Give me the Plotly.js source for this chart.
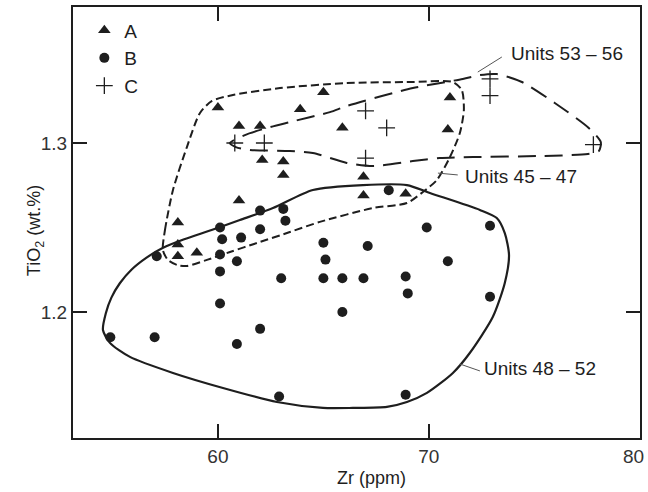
<!DOCTYPE html>
<html>
<head>
<meta charset="utf-8">
<script src="https://cdn.plot.ly/plotly-3.0.1.min.js"></script>
<style>html,body{margin:0;padding:0;background:#fff}#chart{width:648px;height:492px}</style>
</head>
<body>
<div id="chart"></div>
<script>
// ---- Data ----
const seriesNames = ["A", "B", "C"];

const aZr = [60.0, 61.0, 62.0, 62.1, 63.1, 63.1, 63.9, 65.0, 65.9, 71.0, 70.9, 66.9, 66.9, 68.9, 61.0, 58.1, 58.1, 58.1, 59.0];
const aTi = [1.321, 1.310, 1.310, 1.290, 1.289, 1.281, 1.320, 1.330, 1.309, 1.327, 1.308, 1.280, 1.269, 1.270, 1.266, 1.253, 1.240, 1.233, 1.235];

const bZr = [62.0, 63.1, 63.2, 60.1, 60.2, 61.1, 62.0, 57.1, 60.1, 60.9, 60.1, 63.0, 60.1, 54.9, 57.0, 62.0, 60.9,
             69.9, 72.9, 65.0, 67.1, 65.1, 70.9, 65.0, 65.9, 66.9, 68.9, 69.0, 72.9, 65.9, 62.9, 68.9, 68.1];
const bTi = [1.260, 1.261, 1.254, 1.250, 1.243, 1.244, 1.249, 1.233, 1.234, 1.230, 1.224, 1.220, 1.205, 1.185, 1.185, 1.190, 1.181,
             1.250, 1.251, 1.241, 1.239, 1.231, 1.230, 1.220, 1.220, 1.220, 1.221, 1.211, 1.209, 1.200, 1.150, 1.151, 1.272];

const cZr = [60.8, 62.2, 67.0, 68.0, 67.0, 72.9, 72.9, 77.8];
const cTi = [1.300, 1.300, 1.319, 1.309, 1.291, 1.338, 1.328, 1.299];

// Field outlines
const u4852Zr = [54.55, 54.69, 54.95, 55.35, 55.90, 56.60, 57.40, 58.40, 59.70, 61.04, 62.61, 64.50, 66.87, 68.96, 70.05, 72.42, 73.22, 73.60, 73.80, 73.60, 73.03, 71.94, 71.14, 69.91, 68.96, 68.01, 66.40, 64.98, 62.80, 60.24, 57.87, 55.83, 54.88, 54.55];
const u4852Ti = [1.1893, 1.1994, 1.2085, 1.2170, 1.2250, 1.2320, 1.2380, 1.2430, 1.2485, 1.2544, 1.2615, 1.2722, 1.2751, 1.2751, 1.2704, 1.2604, 1.2556, 1.2467, 1.2337, 1.2172, 1.1970, 1.1757, 1.1639, 1.1521, 1.1467, 1.1438, 1.1432, 1.1432, 1.1467, 1.1550, 1.1639, 1.1734, 1.1817, 1.1893];

const u4547Zr = [57.39, 57.49, 57.87, 58.53, 59.15, 59.72, 60.71, 62.94, 66.11, 69.24, 71.14, 71.56, 71.66, 71.47, 71.00, 70.38, 69.72, 68.96, 67.35, 64.83, 63.41, 61.85, 60.57, 59.48, 58.53, 58.06, 57.63, 57.39];
const u4547Ti = [1.2367, 1.2485, 1.2722, 1.2976, 1.3178, 1.3249, 1.3284, 1.3325, 1.3355, 1.3361, 1.3361, 1.3314, 1.3195, 1.3059, 1.2917, 1.2781, 1.2710, 1.2645, 1.2615, 1.2533, 1.2473, 1.2408, 1.2355, 1.2308, 1.2272, 1.2278, 1.2308, 1.2367];

const u5356Zr = [60.57, 61.28, 62.32, 63.41, 65.31, 66.11, 69.24, 71.61, 72.42, 73.22, 74.41, 75.97, 77.58, 78.15, 78.06, 77.54, 75.26, 72.09, 70.52, 69.24, 67.35, 66.11, 64.50, 63.41, 61.52, 60.85, 60.57];
const u5356Ti = [1.3000, 1.3047, 1.3089, 1.3124, 1.3183, 1.3219, 1.3325, 1.3379, 1.3402, 1.3408, 1.3361, 1.3237, 1.3089, 1.3006, 1.2953, 1.2935, 1.2923, 1.2917, 1.2911, 1.2893, 1.2864, 1.2882, 1.2941, 1.2953, 1.2959, 1.2976, 1.3000];

const fieldLabels = ["Units 53 – 56", "Units 45 – 47", "Units 48 – 52"];
const xTicks = [60, 70, 80];
const xTickText = ["60", "70", ""];   // the "80" at the frame edge is placed as an edge label below
const xEdgeLabel = "80";
const yTicks = [1.2, 1.3];

// ---- Styling ----
const ink = "#1e1e1e";
const FONT = "Liberation Sans, Arial, Helvetica, sans-serif";

const traces = [
  {x: u4852Zr, y: u4852Ti, mode: "lines", line: {color: ink, width: 2.2, shape: "spline", smoothing: 0.7}, showlegend: false, hoverinfo: "skip"},
  {x: u4547Zr, y: u4547Ti, mode: "lines", line: {color: ink, width: 2, shape: "spline", smoothing: 0.7, dash: "8px,4px"}, showlegend: false, hoverinfo: "skip"},
  {x: u5356Zr, y: u5356Ti, mode: "lines", line: {color: ink, width: 2, shape: "spline", smoothing: 0.7, dash: "18px,9px"}, showlegend: false, hoverinfo: "skip"},
  {x: aZr, y: aTi, name: seriesNames[0], mode: "markers", legendgroup: "a",
   marker: {symbol: "triangle-up", size: 11, color: ink}},
  {x: bZr, y: bTi, name: seriesNames[1], mode: "markers", legendgroup: "b",
   marker: {symbol: "circle", size: 10, color: ink}},
  {x: cZr, y: cTi, name: seriesNames[2], mode: "markers", legendgroup: "c",
   marker: {symbol: "cross-thin-open", size: 12, color: ink, line: {color: ink, width: 1.3}}}
];

const layout = {
  width: 648, height: 492,
  margin: {l: 73, r: 8, t: 7, b: 54},
  paper_bgcolor: "#fff", plot_bgcolor: "#fff",
  font: {family: FONT, size: 18, color: ink},
  showlegend: true,
  legend: {x: 0.02, y: 0.99, xanchor: "left", yanchor: "top", bgcolor: "rgba(0,0,0,0)",
           font: {family: FONT, size: 19, color: ink}, tracegroupgap: 0, itemsizing: "trace"},
  xaxis: {range: [53.13, 80.01], tickvals: xTicks, ticktext: xTickText,
          ticks: "inside", ticklen: 14, tickwidth: 1.5, tickcolor: ink,
          showline: true, linewidth: 2, linecolor: ink, mirror: "ticks",
          showgrid: false, zeroline: false, tickfont: {size: 19, color: "#333"}},
  yaxis: {range: [1.1254, 1.3805], tickvals: yTicks, ticktext: yTicks.map(v => v.toFixed(1)),
          ticks: "inside", ticklen: 14, tickwidth: 1.5, tickcolor: ink,
          showline: true, linewidth: 2, linecolor: ink, mirror: "ticks",
          showgrid: false, zeroline: false, tickfont: {size: 19, color: "#333"}},
  shapes: [
    {type: "line", xref: "x", yref: "y", x0: 72.32, y0: 1.3420, x1: 73.46, y1: 1.3509, line: {color: "#555", width: 1}},
    {type: "line", xref: "x", yref: "y", x0: 70.43, y0: 1.2822, x1: 71.37, y1: 1.2811, line: {color: "#555", width: 1}},
    {type: "line", xref: "x", yref: "y", x0: 71.47, y0: 1.1692, x1: 72.42, y1: 1.1651, line: {color: "#555", width: 1}}
  ],
  annotations: [
    {x: 73.80, y: 1.3527, xref: "x", yref: "y", text: fieldLabels[0], showarrow: false, xanchor: "left", yanchor: "middle", font: {size: 19, color: ink}},
    {x: 71.62, y: 1.2799, xref: "x", yref: "y", text: fieldLabels[1], showarrow: false, xanchor: "left", yanchor: "middle", font: {size: 19, color: ink}},
    {x: 72.52, y: 1.1663, xref: "x", yref: "y", text: fieldLabels[2], showarrow: false, xanchor: "left", yanchor: "middle", font: {size: 19, color: ink}},
    {x: 1, y: -0.0418, xref: "paper", yref: "paper", xshift: 6, text: xEdgeLabel, showarrow: false, xanchor: "right", yanchor: "middle", font: {size: 19, color: "#333"}},
    {x: 0.5256, y: -0.093, xref: "paper", yref: "paper", text: "Zr (ppm)", showarrow: false, xanchor: "center", yanchor: "middle", font: {size: 18, color: ink}},
    {x: -0.067, y: 0.48, xref: "paper", yref: "paper", text: "TiO<sub>2</sub> (wt.%)", textangle: -90, showarrow: false, xanchor: "center", yanchor: "middle", font: {size: 18, color: ink}}
  ]
};

Plotly.newPlot("chart", traces, layout, {staticPlot: true, displayModeBar: false});
</script>
</body>
</html>
